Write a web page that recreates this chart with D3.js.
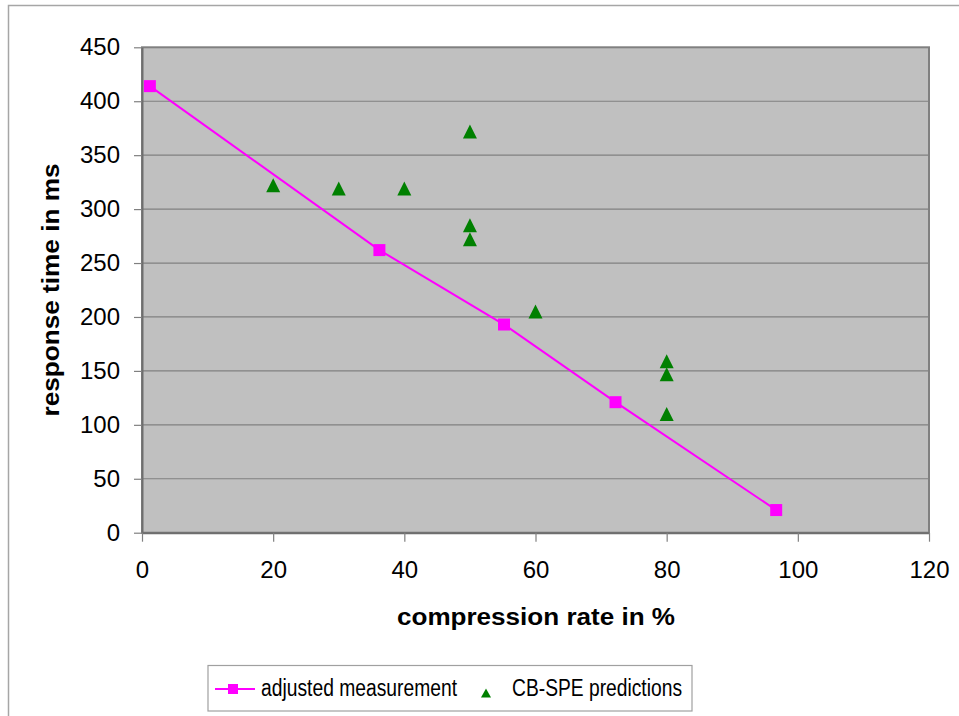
<!DOCTYPE html>
<html>
<head>
<meta charset="utf-8">
<script src="https://cdn.jsdelivr.net/npm/d3@7"></script>
<style>
  body { margin: 0; background: #fff; }
  svg { display: block; font-family: "Liberation Sans", Arial, sans-serif; }
</style>
</head>
<body>
<div id="chart"></div>
<script>
// adjusted measurement (line + squares)
var measX = [1.2, 36.2, 55.2, 72.2, 96.7];
var measY = [414, 262, 193, 121, 21];
// CB-SPE predictions (triangles)
var predX = [20, 30, 40, 50, 50, 50, 60, 80, 80, 80];
var predY = [322, 319, 319, 372, 285, 272, 205, 159, 147, 110];

var xTicks = [0, 20, 40, 60, 80, 100, 120];
var yTicks = [0, 50, 100, 150, 200, 250, 300, 350, 400, 450];
var seriesNames = ["adjusted measurement", "CB-SPE predictions"];

var width = 959, height = 716;
var plotL = 142, plotR = 929, plotT = 47.3, plotB = 532.7;

var svg = d3.select("#chart").append("svg")
    .attr("width", width)
    .attr("height", height);

// outer frame
svg.append("path")
    .attr("d", "M8.5," + height + "V5.5H" + width)
    .attr("fill", "none")
    .attr("stroke", "#a6a6a6")
    .attr("stroke-width", 1.5);

var x = d3.scaleLinear().domain([0, 120]).range([plotL, plotR]);
var y = d3.scaleLinear().domain([0, 450]).range([plotB, plotT]);

// plot background
svg.append("rect")
    .attr("x", plotL).attr("y", plotT)
    .attr("width", plotR - plotL).attr("height", plotB - plotT)
    .attr("fill", "#c0c0c0");

// gridlines
svg.append("g").selectAll("line")
    .data(yTicks.filter(function(d) { return d > 0 && d < 450; }))
    .enter().append("line")
    .attr("x1", plotL).attr("x2", plotR)
    .attr("y1", function(d) { return y(d); })
    .attr("y2", function(d) { return y(d); })
    .attr("stroke", "#808080")
    .attr("stroke-width", 1.2);

// plot border
svg.append("rect")
    .attr("x", plotL).attr("y", plotT)
    .attr("width", plotR - plotL).attr("height", plotB - plotT)
    .attr("fill", "none")
    .attr("stroke", "#808080")
    .attr("stroke-width", 2);

// axes
var yAxis = svg.append("g")
    .attr("transform", "translate(" + plotL + ",0)")
    .call(d3.axisLeft(y).tickValues(yTicks).tickSize(8).tickPadding(14).tickSizeOuter(0));
var xAxis = svg.append("g")
    .attr("transform", "translate(0," + plotB + ")")
    .call(d3.axisBottom(x).tickValues(xTicks).tickSize(9).tickPadding(19).tickSizeOuter(0));

[xAxis, yAxis].forEach(function(a) {
    a.select(".domain").attr("stroke", "#6e6e6e").attr("stroke-width", 2);
    a.selectAll(".tick line").attr("stroke", "#808080").attr("stroke-width", 1.2);
    a.selectAll(".tick text")
        .attr("fill", "#000")
        .style("font-size", "24px")
        .style("font-family", "'Liberation Sans', Arial, sans-serif");
});

// axis titles
svg.append("text")
    .attr("x", 536).attr("y", 625)
    .attr("text-anchor", "middle")
    .attr("font-weight", "bold")
    .attr("font-size", 23)
    .attr("textLength", 278)
    .attr("lengthAdjust", "spacingAndGlyphs")
    .text("compression rate in %");

svg.append("text")
    .attr("transform", "translate(59,290) rotate(-90)")
    .attr("text-anchor", "middle")
    .attr("font-weight", "bold")
    .attr("font-size", 23)
    .attr("textLength", 253)
    .attr("lengthAdjust", "spacingAndGlyphs")
    .text("response time in ms");

// triangle centred on its bounding box
function triangle(w, h) {
    return {
        draw: function(ctx) {
            ctx.moveTo(0, -h / 2);
            ctx.lineTo(w / 2, h / 2);
            ctx.lineTo(-w / 2, h / 2);
            ctx.closePath();
        }
    };
}
function square(s) {
    return {
        draw: function(ctx) {
            ctx.rect(-s / 2, -s / 2, s, s);
        }
    };
}

var meas = measX.map(function(d, i) { return {x: d, y: measY[i]}; });
var pred = predX.map(function(d, i) { return {x: d, y: predY[i]}; });

// line
svg.append("path")
    .datum(meas)
    .attr("fill", "none")
    .attr("stroke", "#ff00ff")
    .attr("stroke-width", 2)
    .attr("d", d3.line().x(function(d) { return x(d.x); }).y(function(d) { return y(d.y); }));

svg.append("g").selectAll("path")
    .data(meas)
    .enter().append("path")
    .attr("transform", function(d) { return "translate(" + x(d.x) + "," + y(d.y) + ")"; })
    .attr("d", d3.symbol().type(square(12)))
    .attr("fill", "#ff00ff");

svg.append("g").selectAll("path")
    .data(pred)
    .enter().append("path")
    .attr("transform", function(d) { return "translate(" + x(d.x) + "," + y(d.y) + ")"; })
    .attr("d", d3.symbol().type(triangle(14, 14)))
    .attr("fill", "#008000");

// legend
var legend = svg.append("g");
legend.append("rect")
    .attr("x", 208).attr("y", 665.5)
    .attr("width", 484).attr("height", 45.5)
    .attr("fill", "#fff")
    .attr("stroke", "#a0a0a0")
    .attr("stroke-width", 1.2);

legend.append("line")
    .attr("x1", 215).attr("x2", 255)
    .attr("y1", 689).attr("y2", 689)
    .attr("stroke", "#ff00ff").attr("stroke-width", 2);
legend.append("path")
    .attr("transform", "translate(233,689)")
    .attr("d", d3.symbol().type(square(10)))
    .attr("fill", "#ff00ff");
legend.append("text")
    .attr("x", 261).attr("y", 696)
    .attr("font-size", 23)
    .attr("textLength", 196)
    .attr("lengthAdjust", "spacingAndGlyphs")
    .text(seriesNames[0]);

legend.append("path")
    .attr("transform", "translate(486,693)")
    .attr("d", d3.symbol().type(triangle(10, 9)))
    .attr("fill", "#008000");
legend.append("text")
    .attr("x", 512).attr("y", 696)
    .attr("font-size", 23)
    .attr("textLength", 170)
    .attr("lengthAdjust", "spacingAndGlyphs")
    .text(seriesNames[1]);
</script>
</body>
</html>
